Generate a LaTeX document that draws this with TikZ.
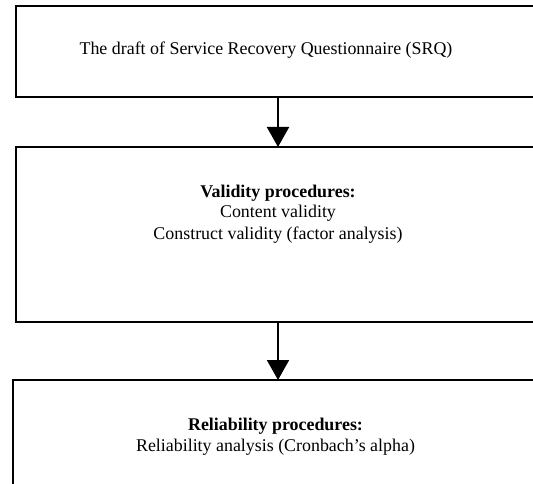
\documentclass[tikz,border=0pt]{standalone}
\usepackage{fontspec}
\setmainfont{Liberation Serif}
\usetikzlibrary{arrows.meta}
\begin{document}
\begin{tikzpicture}[x=1pt,y=-1pt,
  box/.style={draw=black,line width=2pt,anchor=north west,inner sep=0pt,outer sep=0pt},
  txt/.style={anchor=base,inner sep=0pt,font=\fontsize{17.9}{22}\selectfont},
  arr/.style={line width=2pt,-{Triangle[width=22pt,length=20pt]}}]
\useasboundingbox (0,0) rectangle (533,484);
\clip (0,0) rectangle (533,484);
\node[box,minimum width=600pt,minimum height=91pt] (b1) at (16,6) {};
\node[box,minimum width=600pt,minimum height=175pt] (b2) at (16,147) {};
\node[box,minimum width=600pt,minimum height=150pt] (b3) at (13,380) {};
\coordinate (ax) at (278,0);
\draw[arr] (b1.south -| ax) -- (b2.north -| ax);
\draw[arr] (b2.south -| ax) -- (b3.north -| ax);
\node[txt] (t1) at (266,54.5) {The draft of Service Recovery Questionnaire (SRQ)};
\node[txt] (t2a) at (278,197) {\bfseries Validity procedures:};
\node[txt] (t2b) at (278,218) {Content validity};
\node[txt] (t2c) at (278,239) {Construct validity (factor analysis)};
\node[txt] (t3a) at (275.5,430) {\bfseries Reliability procedures:};
\node[txt] (t3b) at (275.5,451) {Reliability analysis (Cronbach’s alpha)};
\end{tikzpicture}
\end{document}
